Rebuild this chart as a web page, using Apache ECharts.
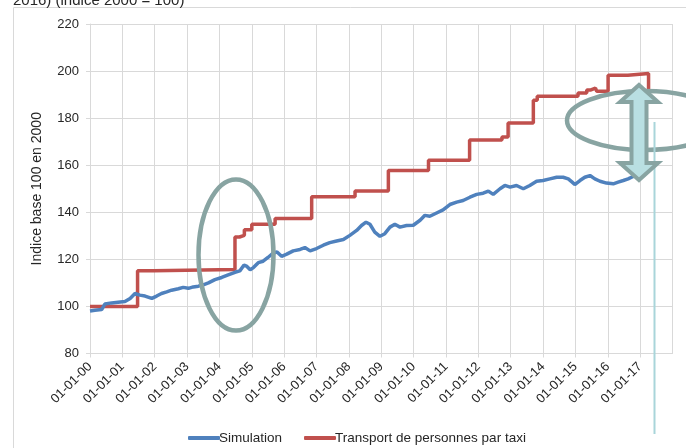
<!DOCTYPE html>
<html><head><meta charset="utf-8">
<script src="https://cdn.jsdelivr.net/npm/echarts@6/dist/echarts.min.js"></script>
<style>html,body{margin:0;padding:0;background:#fff}#c{width:686px;height:448px}</style>
</head><body><div id="c"></div>
<script>
// Simulation (years as decimal, index values)
const simX = [2000.0,2000.15,2000.36,2000.46,2000.67,2000.87,2001.08,2001.24,2001.39,2001.54,2001.70,2001.91,2002.06,2002.21,2002.37,2002.52,2002.73,2002.88,2003.04,2003.19,2003.35,2003.50,2003.66,2003.86,2004.07,2004.27,2004.48,2004.63,2004.76,2004.85,2004.95,2005.05,2005.20,2005.35,2005.50,2005.66,2005.78,2005.92,2006.08,2006.28,2006.49,2006.64,2006.80,2007.0,2007.21,2007.41,2007.62,2007.83,2008.03,2008.24,2008.39,2008.53,2008.65,2008.80,2008.96,2009.11,2009.27,2009.42,2009.58,2009.78,2009.99,2010.20,2010.35,2010.50,2010.71,2010.91,2011.12,2011.33,2011.53,2011.74,2011.95,2012.15,2012.31,2012.46,2012.67,2012.82,2012.98,2013.18,2013.39,2013.59,2013.80,2014.0,2014.21,2014.42,2014.62,2014.78,2014.90,2014.98,2015.14,2015.29,2015.45,2015.60,2015.76,2015.96,2016.17,2016.32,2016.48,2016.63,2016.78,2016.90];
const simY = [98.1,98.4,98.7,101.0,101.5,101.8,102.1,103.4,105.5,104.8,104.4,103.4,104.4,105.5,106.2,106.9,107.5,108.1,107.7,108.3,108.6,109.2,110.0,111.4,112.3,113.4,114.5,115.1,117.6,117.0,115.6,116.5,118.6,119.2,120.8,122.7,123.1,121.3,122.2,123.6,124.2,125.0,123.6,124.6,126.0,127.1,127.8,128.4,130.2,132.3,134.4,135.8,134.9,131.6,129.8,130.9,133.7,134.9,133.7,134.4,134.5,136.6,138.7,138.3,139.7,141.0,143.3,144.3,145.0,146.4,147.6,148.1,149.0,147.6,150.0,151.4,150.7,151.4,150.0,151.4,153.2,153.5,154.2,154.9,154.9,154.2,152.8,151.8,153.5,154.9,155.6,154.2,153.2,152.4,152.1,152.8,153.5,154.2,155.2,155.6];
// Transport de personnes par taxi (value holds from each date on)
const taxiX = [2000.0,2001.47,2001.96,2004.48,2004.62,2004.77,2005.0,2005.72,2006.85,2008.19,2009.22,2010.46,2011.73,2012.73,2012.92,2013.70,2013.82,2015.08,2015.35,2015.48,2015.62,2015.66,2016.01,2016.62,2017.26];
const taxiY = [100,115.2,115.7,129.5,130.2,132.6,134.9,137.4,146.6,149.0,157.8,162.1,170.7,172.0,177.9,187.6,189.3,190.7,192.0,192.8,193.2,191.4,198.2,199.0,192.0];
const seriesNames = ['Simulation','Transport de personnes par taxi'];
const xTickLabels = ['01-01-00','01-01-01','01-01-02','01-01-03','01-01-04','01-01-05','01-01-06','01-01-07','01-01-08','01-01-09','01-01-10','01-01-11','01-01-12','01-01-13','01-01-14','01-01-15','01-01-16','01-01-17'];
const yAxisTitle = 'Indice base 100 en 2000';
const topText = '2016) (indice 2000 = 100)';

const chart = echarts.init(document.getElementById('c'), null, {renderer:'canvas'});
const teal = '#88A4A2';
const grid = '#D9D9D9';
const font = 'Liberation Sans, Arial';
chart.setOption({
  animation:false,
  grid:{left:90, right:13.5, top:24, bottom:94.5},
  xAxis:{type:'value', min:2000, max:2018, interval:1,
    axisLine:{show:true, lineStyle:{color:grid}},
    axisTick:{show:true, length:4, lineStyle:{color:grid}},
    splitLine:{show:true, lineStyle:{color:grid, width:1}},
    axisLabel:{rotate:45, margin:11, fontSize:13, color:'#262626', fontFamily:font,
      showMaxLabel:false,
      formatter:v=>xTickLabels[Math.round(v-2000)]||''}},
  yAxis:{type:'value', min:80, max:220, interval:20,
    name:yAxisTitle, nameLocation:'middle', nameGap:46,
    nameTextStyle:{fontSize:14, color:'#262626', fontFamily:font},
    axisLine:{show:true, lineStyle:{color:grid}},
    axisTick:{show:true, length:4, lineStyle:{color:grid}},
    splitLine:{show:true, lineStyle:{color:grid, width:1}},
    axisLabel:{fontSize:13, color:'#262626', margin:11, fontFamily:font}},
  legend:{left:183, top:426, itemGap:22, itemWidth:32, itemHeight:4, icon:'roundRect',
    textStyle:{fontSize:13.5, color:'#262626', fontFamily:font, padding:[0,0,0,-6]},
    data:seriesNames},
  series:[
    {name:seriesNames[0], type:'line', showSymbol:false, symbol:'none',
      data:simX.map((x,i)=>[x,simY[i]]),
      lineStyle:{color:'#4F81BD', width:3.5}, itemStyle:{color:'#4F81BD'}, z:3},
    {name:seriesNames[1], type:'line', showSymbol:false, symbol:'none', step:'end',
      data:taxiX.map((x,i)=>[x,taxiY[i]]),
      lineStyle:{color:'#C0504D', width:3.5}, itemStyle:{color:'#C0504D'}, z:2}
  ],
  graphic:[
    {type:'rect', z:0, silent:true, shape:{x:13.5, y:7.5, width:700, height:460},
      style:{fill:'none', stroke:grid, lineWidth:1}},
    {type:'text', z:100, silent:true, style:{text:topText, x:13, y:8, verticalAlign:'bottom',
      font:'15px "Liberation Sans", Arial', fill:'#262626'}},
    {type:'ellipse', z:100, silent:true, shape:{cx:236, cy:255, rx:37.5, ry:75.5},
      style:{fill:'none', stroke:teal, lineWidth:4.5}},
    {type:'ellipse', z:100, silent:true, shape:{cx:645, cy:120.5, rx:78, ry:29.5},
      style:{fill:'none', stroke:teal, lineWidth:4.5}},
    {type:'line', z:100, silent:true, shape:{x1:654.5, y1:122, x2:654.5, y2:434},
      style:{stroke:'#A9D5DA', lineWidth:2}},
    {type:'polygon', z:101, silent:true,
      shape:{points:[[639,85],[658,102],[646.5,102],[646.5,163],[658,163],[639,180],[620,163],[631.5,163],[631.5,102],[620,102]]},
      style:{fill:'#B9DFE2', stroke:teal, lineWidth:4, lineJoin:'miter'}}
  ]
});
</script>
</body></html>
